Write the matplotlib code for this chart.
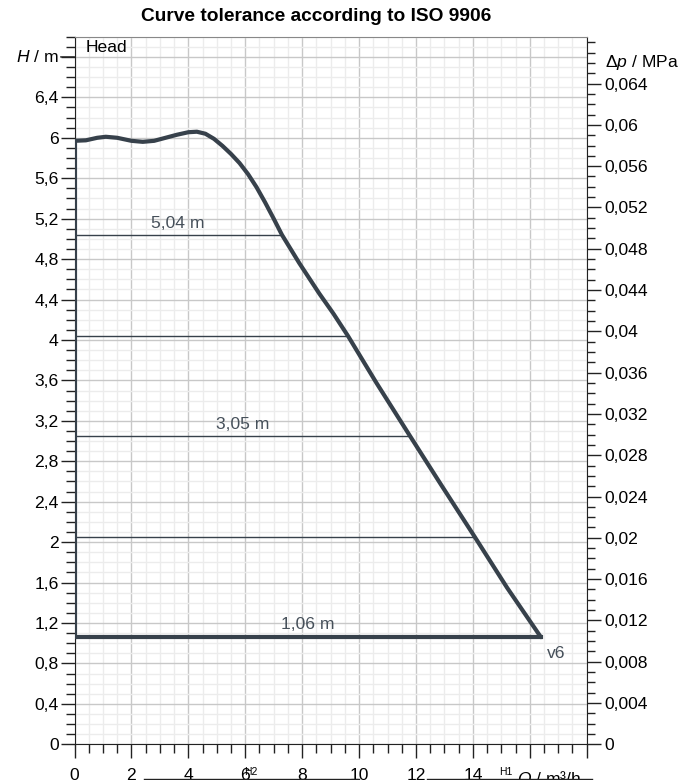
import numpy as np
import matplotlib
matplotlib.use('Agg')
from matplotlib import pyplot as plt
from matplotlib.ticker import MultipleLocator, FixedLocator, FuncFormatter
from matplotlib.lines import Line2D
import matplotlib.transforms as mtransforms

plt.rcParams['font.family'] = ['Liberation Sans', 'DejaVu Sans']
plt.rcParams['mathtext.fontset'] = 'custom'
plt.rcParams['mathtext.rm'] = 'Liberation Sans'
plt.rcParams['mathtext.it'] = 'Liberation Sans:italic'

# Head curve v6 (Q in m3/h, H in m)
curve_q = [0, 0.4, 0.8, 1.1, 1.5, 2.0, 2.4, 2.8, 3.2, 3.6, 4.0, 4.3, 4.6, 4.9, 5.2,
           5.5, 5.8, 6.1, 6.4, 6.7, 7.0, 7.29, 7.9, 8.6, 9.1, 9.61, 10.6, 11.79,
           12.9, 14.07, 15.2, 16.39]
curve_h = [5.97, 5.975, 6.0, 6.01, 6.0, 5.97, 5.96, 5.97, 6.0, 6.03, 6.055, 6.06, 6.04, 5.99, 5.92,
           5.84, 5.75, 5.64, 5.51, 5.36, 5.2, 5.04, 4.76, 4.46, 4.26, 4.04, 3.58, 3.05,
           2.56, 2.05, 1.55, 1.06]

# tolerance lines
tol_h = [5.04, 4.04, 3.05, 2.05]
tol_q = [7.29, 9.61, 11.79, 14.07]
tol_labels = ['5,04 m', '', '3,05 m', '']
base_h = 1.06
base_q = 16.39
base_label = '1,06 m'
curve_name = 'v6'

rho_g = 0.0097915  # MPa per m
q_max = 18
h_max = 7.0

line_col = '#37414b'
txt_col = '#46505a'
fs = 12.6

def comma(v, pos=None):
    s = ('%.3f' % v).rstrip('0').rstrip('.')
    return s.replace('.', ',')

fig = plt.figure(figsize=(6.91, 7.8), dpi=100)
ax = fig.add_axes([74.5/691, 1-744.3/780, (586.7-74.5)/691, (744.3-36.7)/780])

ax.set_xlim(0, q_max)
ax.set_ylim(0, h_max)

ax.xaxis.set_major_locator(MultipleLocator(2))
ax.xaxis.set_minor_locator(MultipleLocator(0.5))
ax.yaxis.set_major_locator(MultipleLocator(0.4))
ax.yaxis.set_minor_locator(MultipleLocator(0.1))
ax.xaxis.set_major_formatter(FuncFormatter(lambda v, p: '%d' % v if v <= 14 else ''))
ax.yaxis.set_major_formatter(FuncFormatter(lambda v, p: comma(v) if v <= 6.41 else ''))

ax.grid(which='major', color='#c8c8c8', lw=1)
ax.grid(which='minor', color='#ececec', lw=1)
ax.set_axisbelow(True)

ax.tick_params(which='major', length=10, width=1, labelsize=fs, color='#222222')
ax.tick_params(which='minor', length=6.5, width=1, color='#222222')
ax.tick_params(axis='x', which='major', pad=7)
ax.tick_params(axis='y', which='major', pad=1.5)
for s in ['left', 'bottom', 'right']:
    ax.spines[s].set_color('#222222')
ax.spines['top'].set_color('#888888')

# curve and tolerance box
ax.plot(curve_q, curve_h, color=line_col, lw=3, solid_capstyle='round',
        solid_joinstyle='round', zorder=5)
ax.plot([0, 0], [base_h, curve_h[0]], color=line_col, lw=3, zorder=5)
ax.plot([0, base_q], [base_h, base_h], color=line_col, lw=3, zorder=5)
for h, q, lab in zip(tol_h, tol_q, tol_labels):
    ax.plot([0, q], [h, h], color=line_col, lw=1, zorder=4)
    if lab:
        ax.text(q/2, h + 0.04, lab, ha='center', va='bottom', fontsize=fs, color=txt_col)
ax.text(base_q/2, base_h + 0.05, base_label, ha='center', va='bottom', fontsize=fs, color=txt_col)
ax.text(base_q + 0.2, base_h - 0.16, curve_name, ha='left', va='center', fontsize=fs, color=txt_col)

ax.text(0.4, 6.89, 'Head', ha='left', va='center', fontsize=fs)

# left axis name with its own tick
ax.annotate('', xy=(0, 6.8), xycoords=('axes fraction', 'data'), xytext=(-10, 0),
            textcoords='offset points', annotation_clip=False,
            arrowprops=dict(arrowstyle='-', lw=1, color='#222222', shrinkA=0, shrinkB=0))
ax.annotate('$H$ / m', xy=(0, 6.8), xycoords=('axes fraction', 'data'), xytext=(-11.5, 0),
            textcoords='offset points', ha='right', va='center', fontsize=fs, annotation_clip=False)

# x axis name
ax.annotate('$Q$ / m³/h', xy=(15.55, 0), xycoords='data', xytext=(0, -17.5),
            textcoords='offset points', ha='left', va='top', fontsize=fs, annotation_clip=False)

# right axis in MPa
ax2 = ax.twinx()
ax2.set_ylim(0, h_max * rho_g)
ax2.yaxis.set_major_locator(FixedLocator(np.arange(0, 0.0641, 0.004)))
ax2.yaxis.set_minor_locator(MultipleLocator(0.001))
ax2.yaxis.set_major_formatter(FuncFormatter(comma))
ax2.tick_params(which='major', length=10, width=1, labelsize=fs, pad=3, color='#222222')
ax2.tick_params(which='minor', length=6, width=1, color='#222222')
for s in ax2.spines.values():
    s.set_visible(False)
ax2.annotate('Δ$p$ / MPa', xy=(1, 0.066), xycoords=('axes fraction', 'data'), xytext=(13, 0),
             textcoords='offset points', ha='left', va='center', fontsize=fs, annotation_clip=False)

fig.text(316/691, 1-16.7/780, 'Curve tolerance according to ISO 9906', ha='center', va='center',
         fontsize=13.8, fontweight='bold')

# clipped markers under the x axis
trans = mtransforms.blended_transform_factory(ax.transData, fig.transFigure)
for x0, x1, lab, xl in [(2.45, 10.0, 'H2', 6.2), (12.4, 18.2, 'H1', 15.15)]:
    fig.add_artist(Line2D([x0, x1], [1.5/780, 1.5/780], transform=trans, color='#222222', lw=1))
    fig.text(xl, 1-772/780, lab, transform=trans, fontsize=7.5, ha='center', va='center')

fig.savefig('out.png', dpi=100)
